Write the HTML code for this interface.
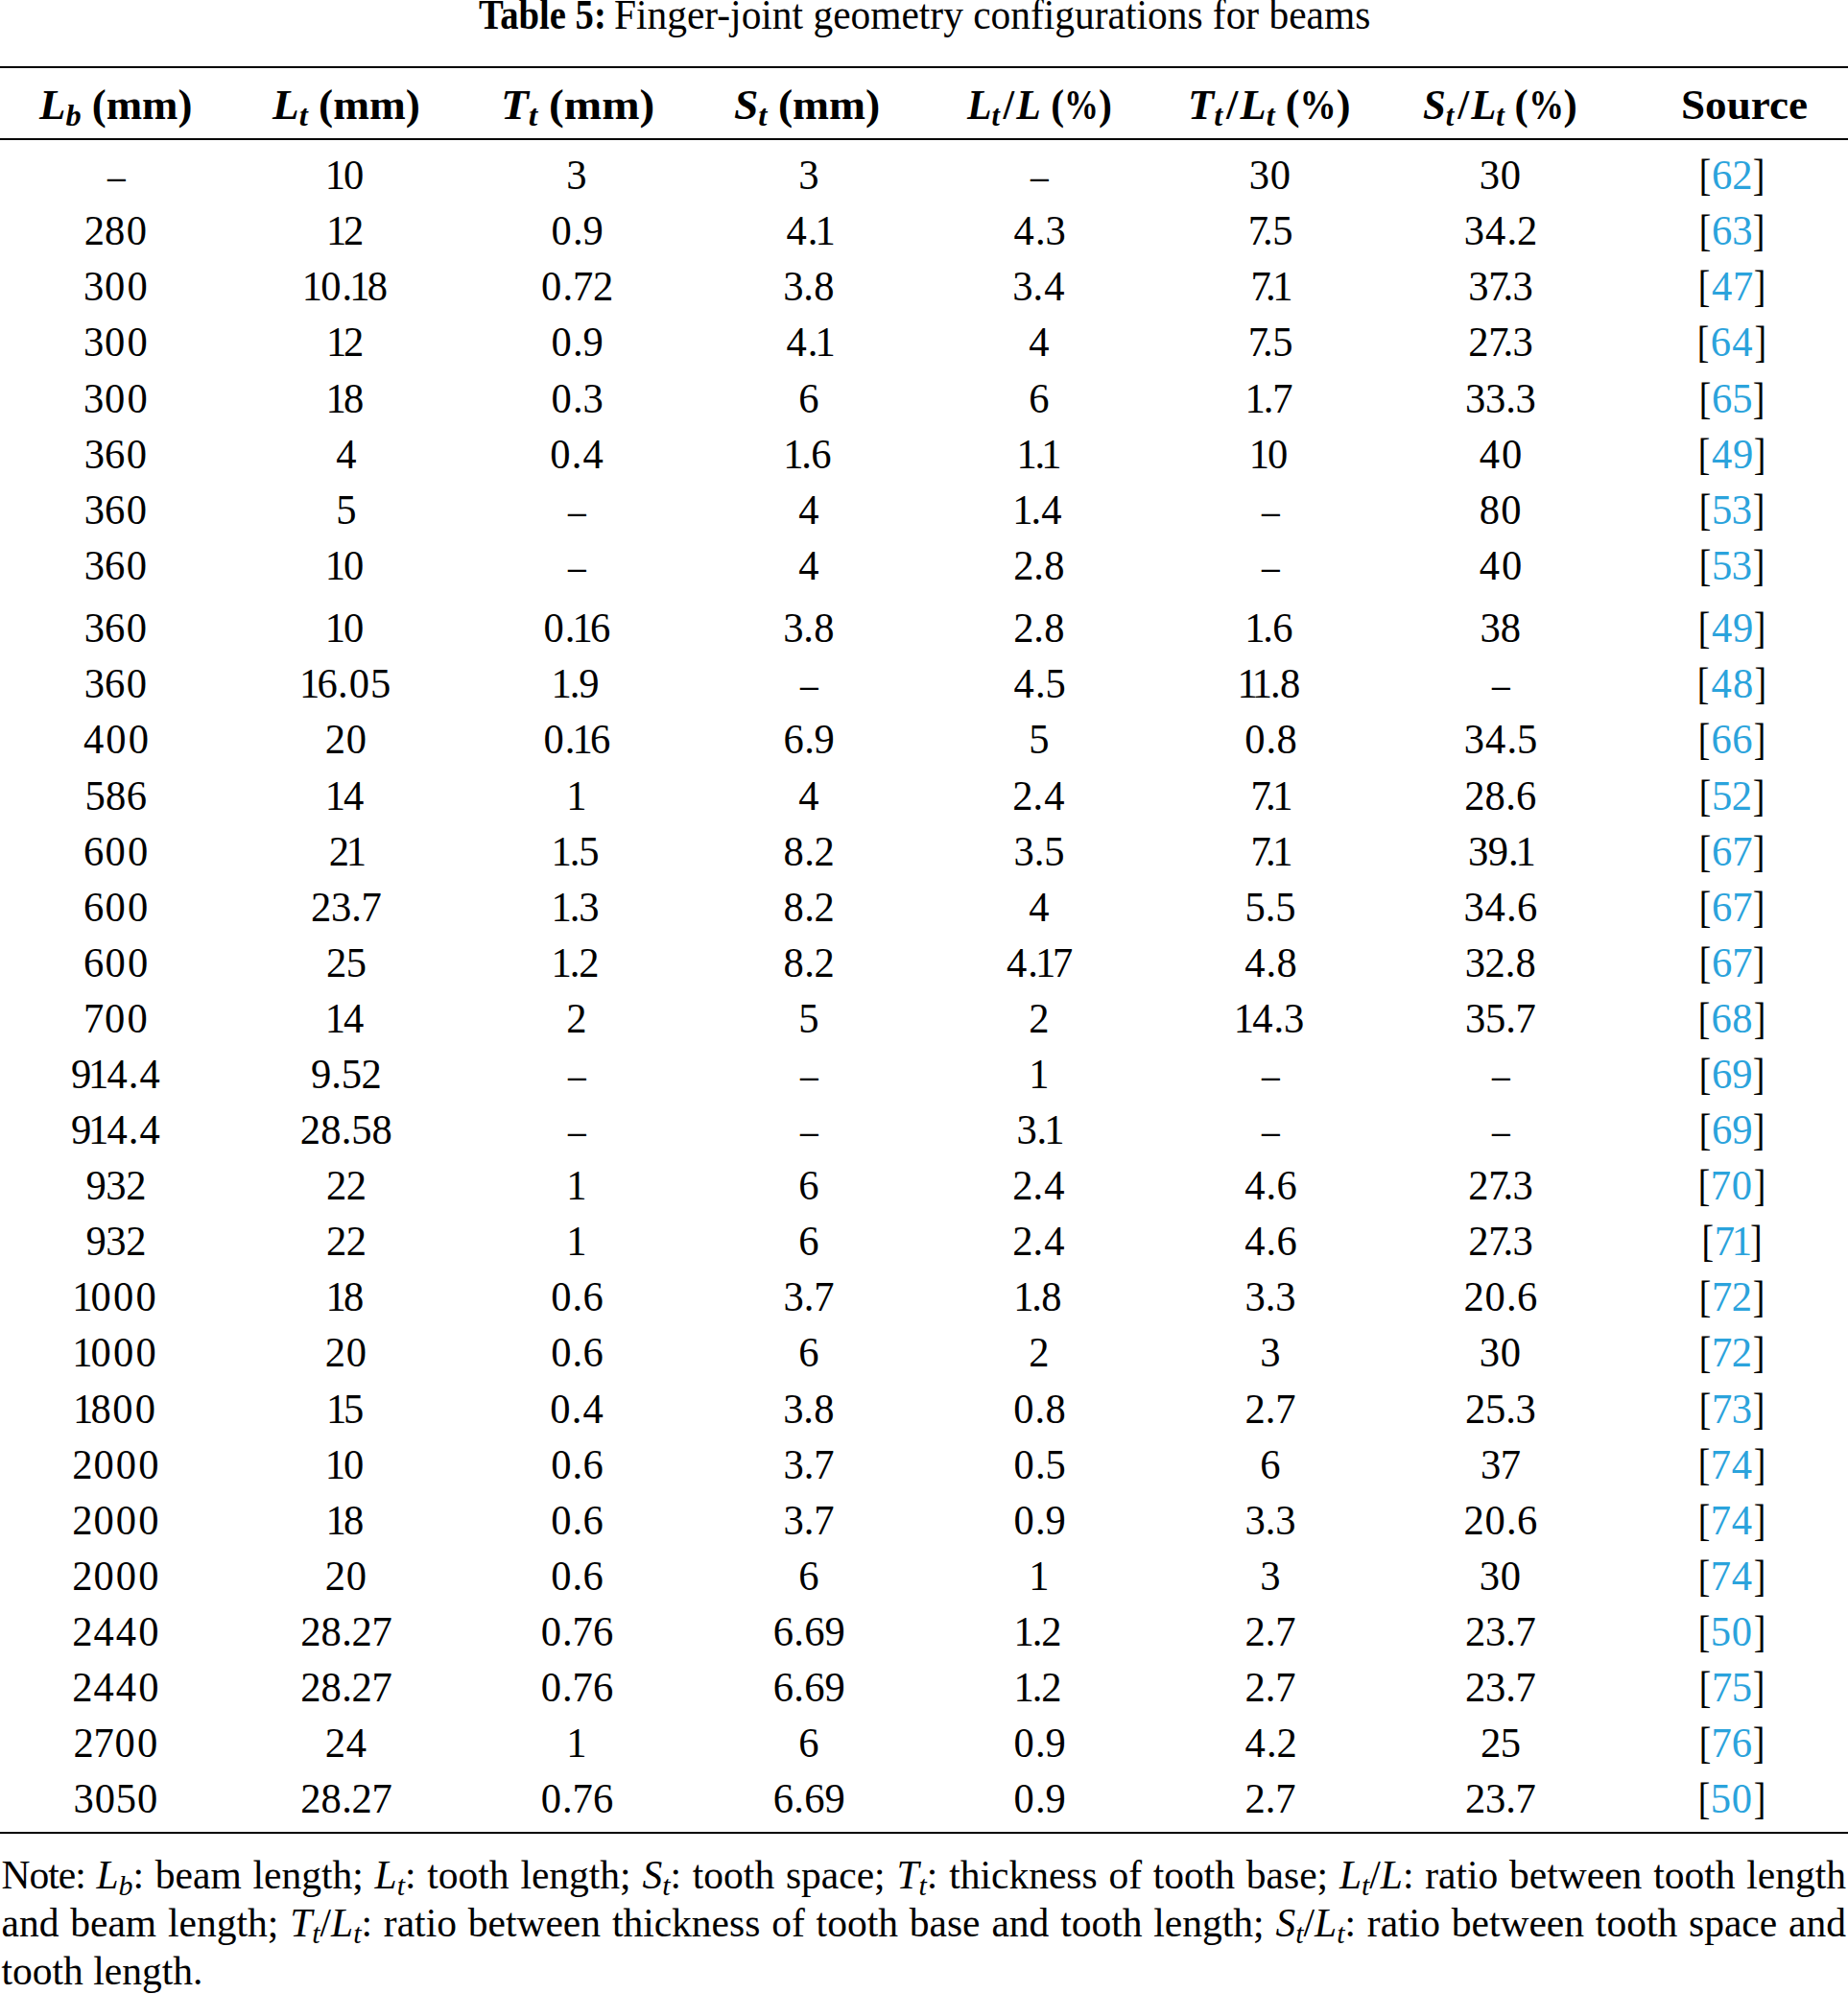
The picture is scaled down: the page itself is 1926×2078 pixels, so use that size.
<!DOCTYPE html>
<html><head><meta charset="utf-8"><title>Table 5</title>
<style>
html,body{margin:0;padding:0;background:#fff;}
body{width:1926px;height:2078px;position:relative;overflow:hidden;font-family:"Liberation Serif",serif;color:#000;}
.ln{position:absolute;left:0;width:1926px;white-space:nowrap;}
.c{position:absolute;top:0;text-align:center;display:block;}
.b .c{transform:scaleX(0.945);}
.rule{position:absolute;left:0;width:1926px;background:#000;}
.ref{color:#2ba3dc;}
.o{margin:0 -0.07em;}
.p{margin:0;}
.d{display:inline-block;transform:scaleX(0.88);position:relative;top:1px;}
.p1{margin:0 -0.02em 0 0.02em;}
.p7{margin:0 -0.01em 0 0;}
.br{display:inline-block;transform:scale(0.89,1.04);}
.bl{transform-origin:100% 50%;margin-right:0.6px;}
.brr{transform-origin:0 50%;margin-left:0.6px;}
.f{position:absolute;top:0;display:block;white-space:nowrap;transform-origin:0 50%;}
.nt{position:absolute;left:1.5px;top:0;width:1922.5px;}
.k{margin:0 -0.14em 0 0;}
.n{margin:0 -0.004em;}
.m{margin:0 0.007em;}
.z{margin:0 0.026em;}
.h{font-weight:bold;}
.h i{font-style:italic;}
sub{font-size:0.72em;vertical-align:baseline;position:relative;top:0.24em;line-height:0;}
.title{text-align:center;}
.note{text-align:justify;text-align-last:justify;white-space:normal;}
.note.last{text-align-last:left;}
</style></head><body>

<div class="rule" style="top:68.8px;height:2.1px"></div>
<div class="rule" style="top:143.8px;height:2.1px"></div>
<div class="rule" style="top:1908.5px;height:2.1px"></div>
<div class="ln " style="top:-11.18px;height:52px;line-height:52px;font-size:43.5px"><span class="f" style="left:499.49px;transform:scaleX(0.8883)"><b>Table 5:</b></span><span class="f" style="left:640.37px;transform:scaleX(0.9523)">Finger-joint geometry configurations for beams</span></div>
<div class="ln h" style="top:82.75px;height:53px;line-height:53px;font-size:44.3px"><span class="f" style="left:41.23px;transform:scaleX(1.0123)"><i>L<sub>b</sub></i> (mm)</span><span class="f" style="left:284.13px;transform:scaleX(1.0231)"><i>L<sub>t</sub></i> (mm)</span><span class="f" style="left:522.00px;transform:scaleX(1.0663)"><i>T<sub>t</sub></i> (mm)</span><span class="f" style="left:765.06px;transform:scaleX(1.0293)"><i>S<sub>t</sub></i> (mm)</span><span class="f" style="left:1007.79px;transform:scaleX(0.9428)"><i>L<sub>t</sub></i><span style="margin:0 0.05em 0 0.09em">/</span><i>L</i> (<span style="display:inline-block;transform:scaleX(0.86);margin:0 -0.07em">%</span>)</span><span class="f" style="left:1238.07px;transform:scaleX(1.0026)"><i>T<sub>t</sub></i><span style="margin:0 0.05em 0 0.09em">/</span><i>L<sub>t</sub></i> (<span style="display:inline-block;transform:scaleX(0.86);margin:0 -0.07em">%</span>)</span><span class="f" style="left:1482.89px;transform:scaleX(0.9652)"><i>S<sub>t</sub></i><span style="margin:0 0.05em 0 0.09em">/</span><i>L<sub>t</sub></i> (<span style="display:inline-block;transform:scaleX(0.86);margin:0 -0.07em">%</span>)</span><span class="f" style="left:1751.88px;transform:scaleX(1.0186)">Source</span></div>
<div class="ln b" style="top:155.11px;height:54px;line-height:54px;font-size:45.0px"><span class="c" style="left:0.60px;width:240px"><span class="d">–</span></span><span class="c" style="left:240.60px;width:240px"><span class="o">1</span><span class="z">0</span></span><span class="c" style="left:481.20px;width:240px"><span class="n">3</span></span><span class="c" style="left:722.60px;width:240px"><span class="n">3</span></span><span class="c" style="left:962.90px;width:240px"><span class="d">–</span></span><span class="c" style="left:1203.60px;width:240px"><span class="n">3</span><span class="z">0</span></span><span class="c" style="left:1443.60px;width:240px"><span class="n">3</span><span class="z">0</span></span><span class="c" style="left:1684.60px;width:240px"><span class="br bl">[</span><span class="ref"><span class="m">6</span><span class="n">2</span></span><span class="br brr">]</span></span></div>
<div class="ln b" style="top:213.23px;height:54px;line-height:54px;font-size:45.0px"><span class="c" style="left:0.60px;width:240px"><span class="n">2</span><span class="m">8</span><span class="z">0</span></span><span class="c" style="left:240.60px;width:240px"><span class="o">1</span><span class="n">2</span></span><span class="c" style="left:481.20px;width:240px"><span class="z">0</span><span class="p">.</span><span class="n">9</span></span><span class="c" style="left:722.60px;width:240px"><span class="z">4</span><span class="p">.</span><span class="o">1</span></span><span class="c" style="left:962.90px;width:240px"><span class="z">4</span><span class="p">.</span><span class="n">3</span></span><span class="c" style="left:1203.60px;width:240px"><span class="k">7</span><span class="p7">.</span><span class="n">5</span></span><span class="c" style="left:1443.60px;width:240px"><span class="n">3</span><span class="z">4</span><span class="p">.</span><span class="n">2</span></span><span class="c" style="left:1684.60px;width:240px"><span class="br bl">[</span><span class="ref"><span class="m">6</span><span class="n">3</span></span><span class="br brr">]</span></span></div>
<div class="ln b" style="top:271.35px;height:54px;line-height:54px;font-size:45.0px"><span class="c" style="left:0.60px;width:240px"><span class="n">3</span><span class="z">0</span><span class="z">0</span></span><span class="c" style="left:240.60px;width:240px"><span class="o">1</span><span class="z">0</span><span class="p">.</span><span class="o">1</span><span class="m">8</span></span><span class="c" style="left:481.20px;width:240px"><span class="z">0</span><span class="p">.</span><span class="n">7</span><span class="n">2</span></span><span class="c" style="left:722.60px;width:240px"><span class="n">3</span><span class="p">.</span><span class="m">8</span></span><span class="c" style="left:962.90px;width:240px"><span class="n">3</span><span class="p">.</span><span class="z">4</span></span><span class="c" style="left:1203.60px;width:240px"><span class="k">7</span><span class="p7">.</span><span class="o">1</span></span><span class="c" style="left:1443.60px;width:240px"><span class="n">3</span><span class="k">7</span><span class="p7">.</span><span class="n">3</span></span><span class="c" style="left:1684.60px;width:240px"><span class="br bl">[</span><span class="ref"><span class="z">4</span><span class="n">7</span></span><span class="br brr">]</span></span></div>
<div class="ln b" style="top:329.47px;height:54px;line-height:54px;font-size:45.0px"><span class="c" style="left:0.60px;width:240px"><span class="n">3</span><span class="z">0</span><span class="z">0</span></span><span class="c" style="left:240.60px;width:240px"><span class="o">1</span><span class="n">2</span></span><span class="c" style="left:481.20px;width:240px"><span class="z">0</span><span class="p">.</span><span class="n">9</span></span><span class="c" style="left:722.60px;width:240px"><span class="z">4</span><span class="p">.</span><span class="o">1</span></span><span class="c" style="left:962.90px;width:240px"><span class="z">4</span></span><span class="c" style="left:1203.60px;width:240px"><span class="k">7</span><span class="p7">.</span><span class="n">5</span></span><span class="c" style="left:1443.60px;width:240px"><span class="n">2</span><span class="k">7</span><span class="p7">.</span><span class="n">3</span></span><span class="c" style="left:1684.60px;width:240px"><span class="br bl">[</span><span class="ref"><span class="m">6</span><span class="z">4</span></span><span class="br brr">]</span></span></div>
<div class="ln b" style="top:387.59px;height:54px;line-height:54px;font-size:45.0px"><span class="c" style="left:0.60px;width:240px"><span class="n">3</span><span class="z">0</span><span class="z">0</span></span><span class="c" style="left:240.60px;width:240px"><span class="o">1</span><span class="m">8</span></span><span class="c" style="left:481.20px;width:240px"><span class="z">0</span><span class="p">.</span><span class="n">3</span></span><span class="c" style="left:722.60px;width:240px"><span class="m">6</span></span><span class="c" style="left:962.90px;width:240px"><span class="m">6</span></span><span class="c" style="left:1203.60px;width:240px"><span class="o">1</span><span class="p1">.</span><span class="n">7</span></span><span class="c" style="left:1443.60px;width:240px"><span class="n">3</span><span class="n">3</span><span class="p">.</span><span class="n">3</span></span><span class="c" style="left:1684.60px;width:240px"><span class="br bl">[</span><span class="ref"><span class="m">6</span><span class="n">5</span></span><span class="br brr">]</span></span></div>
<div class="ln b" style="top:445.71px;height:54px;line-height:54px;font-size:45.0px"><span class="c" style="left:0.60px;width:240px"><span class="n">3</span><span class="m">6</span><span class="z">0</span></span><span class="c" style="left:240.60px;width:240px"><span class="z">4</span></span><span class="c" style="left:481.20px;width:240px"><span class="z">0</span><span class="p">.</span><span class="z">4</span></span><span class="c" style="left:722.60px;width:240px"><span class="o">1</span><span class="p1">.</span><span class="m">6</span></span><span class="c" style="left:962.90px;width:240px"><span class="o">1</span><span class="p1">.</span><span class="o">1</span></span><span class="c" style="left:1203.60px;width:240px"><span class="o">1</span><span class="z">0</span></span><span class="c" style="left:1443.60px;width:240px"><span class="z">4</span><span class="z">0</span></span><span class="c" style="left:1684.60px;width:240px"><span class="br bl">[</span><span class="ref"><span class="z">4</span><span class="n">9</span></span><span class="br brr">]</span></span></div>
<div class="ln b" style="top:503.83px;height:54px;line-height:54px;font-size:45.0px"><span class="c" style="left:0.60px;width:240px"><span class="n">3</span><span class="m">6</span><span class="z">0</span></span><span class="c" style="left:240.60px;width:240px"><span class="n">5</span></span><span class="c" style="left:481.20px;width:240px"><span class="d">–</span></span><span class="c" style="left:722.60px;width:240px"><span class="z">4</span></span><span class="c" style="left:962.90px;width:240px"><span class="o">1</span><span class="p1">.</span><span class="z">4</span></span><span class="c" style="left:1203.60px;width:240px"><span class="d">–</span></span><span class="c" style="left:1443.60px;width:240px"><span class="m">8</span><span class="z">0</span></span><span class="c" style="left:1684.60px;width:240px"><span class="br bl">[</span><span class="ref"><span class="n">5</span><span class="n">3</span></span><span class="br brr">]</span></span></div>
<div class="ln b" style="top:561.95px;height:54px;line-height:54px;font-size:45.0px"><span class="c" style="left:0.60px;width:240px"><span class="n">3</span><span class="m">6</span><span class="z">0</span></span><span class="c" style="left:240.60px;width:240px"><span class="o">1</span><span class="z">0</span></span><span class="c" style="left:481.20px;width:240px"><span class="d">–</span></span><span class="c" style="left:722.60px;width:240px"><span class="z">4</span></span><span class="c" style="left:962.90px;width:240px"><span class="n">2</span><span class="p">.</span><span class="m">8</span></span><span class="c" style="left:1203.60px;width:240px"><span class="d">–</span></span><span class="c" style="left:1443.60px;width:240px"><span class="z">4</span><span class="z">0</span></span><span class="c" style="left:1684.60px;width:240px"><span class="br bl">[</span><span class="ref"><span class="n">5</span><span class="n">3</span></span><span class="br brr">]</span></span></div>
<div class="ln b" style="top:627.31px;height:54px;line-height:54px;font-size:45.0px"><span class="c" style="left:0.60px;width:240px"><span class="n">3</span><span class="m">6</span><span class="z">0</span></span><span class="c" style="left:240.60px;width:240px"><span class="o">1</span><span class="z">0</span></span><span class="c" style="left:481.20px;width:240px"><span class="z">0</span><span class="p">.</span><span class="o">1</span><span class="m">6</span></span><span class="c" style="left:722.60px;width:240px"><span class="n">3</span><span class="p">.</span><span class="m">8</span></span><span class="c" style="left:962.90px;width:240px"><span class="n">2</span><span class="p">.</span><span class="m">8</span></span><span class="c" style="left:1203.60px;width:240px"><span class="o">1</span><span class="p1">.</span><span class="m">6</span></span><span class="c" style="left:1443.60px;width:240px"><span class="n">3</span><span class="m">8</span></span><span class="c" style="left:1684.60px;width:240px"><span class="br bl">[</span><span class="ref"><span class="z">4</span><span class="n">9</span></span><span class="br brr">]</span></span></div>
<div class="ln b" style="top:685.40px;height:54px;line-height:54px;font-size:45.0px"><span class="c" style="left:0.60px;width:240px"><span class="n">3</span><span class="m">6</span><span class="z">0</span></span><span class="c" style="left:240.60px;width:240px"><span class="o">1</span><span class="m">6</span><span class="p">.</span><span class="z">0</span><span class="n">5</span></span><span class="c" style="left:481.20px;width:240px"><span class="o">1</span><span class="p1">.</span><span class="n">9</span></span><span class="c" style="left:722.60px;width:240px"><span class="d">–</span></span><span class="c" style="left:962.90px;width:240px"><span class="z">4</span><span class="p">.</span><span class="n">5</span></span><span class="c" style="left:1203.60px;width:240px"><span class="o">1</span><span class="o">1</span><span class="p1">.</span><span class="m">8</span></span><span class="c" style="left:1443.60px;width:240px"><span class="d">–</span></span><span class="c" style="left:1684.60px;width:240px"><span class="br bl">[</span><span class="ref"><span class="z">4</span><span class="m">8</span></span><span class="br brr">]</span></span></div>
<div class="ln b" style="top:743.48px;height:54px;line-height:54px;font-size:45.0px"><span class="c" style="left:0.60px;width:240px"><span class="z">4</span><span class="z">0</span><span class="z">0</span></span><span class="c" style="left:240.60px;width:240px"><span class="n">2</span><span class="z">0</span></span><span class="c" style="left:481.20px;width:240px"><span class="z">0</span><span class="p">.</span><span class="o">1</span><span class="m">6</span></span><span class="c" style="left:722.60px;width:240px"><span class="m">6</span><span class="p">.</span><span class="n">9</span></span><span class="c" style="left:962.90px;width:240px"><span class="n">5</span></span><span class="c" style="left:1203.60px;width:240px"><span class="z">0</span><span class="p">.</span><span class="m">8</span></span><span class="c" style="left:1443.60px;width:240px"><span class="n">3</span><span class="z">4</span><span class="p">.</span><span class="n">5</span></span><span class="c" style="left:1684.60px;width:240px"><span class="br bl">[</span><span class="ref"><span class="m">6</span><span class="m">6</span></span><span class="br brr">]</span></span></div>
<div class="ln b" style="top:801.57px;height:54px;line-height:54px;font-size:45.0px"><span class="c" style="left:0.60px;width:240px"><span class="n">5</span><span class="m">8</span><span class="m">6</span></span><span class="c" style="left:240.60px;width:240px"><span class="o">1</span><span class="z">4</span></span><span class="c" style="left:481.20px;width:240px"><span class="o">1</span></span><span class="c" style="left:722.60px;width:240px"><span class="z">4</span></span><span class="c" style="left:962.90px;width:240px"><span class="n">2</span><span class="p">.</span><span class="z">4</span></span><span class="c" style="left:1203.60px;width:240px"><span class="k">7</span><span class="p7">.</span><span class="o">1</span></span><span class="c" style="left:1443.60px;width:240px"><span class="n">2</span><span class="m">8</span><span class="p">.</span><span class="m">6</span></span><span class="c" style="left:1684.60px;width:240px"><span class="br bl">[</span><span class="ref"><span class="n">5</span><span class="n">2</span></span><span class="br brr">]</span></span></div>
<div class="ln b" style="top:859.65px;height:54px;line-height:54px;font-size:45.0px"><span class="c" style="left:0.60px;width:240px"><span class="m">6</span><span class="z">0</span><span class="z">0</span></span><span class="c" style="left:240.60px;width:240px"><span class="n">2</span><span class="o">1</span></span><span class="c" style="left:481.20px;width:240px"><span class="o">1</span><span class="p1">.</span><span class="n">5</span></span><span class="c" style="left:722.60px;width:240px"><span class="m">8</span><span class="p">.</span><span class="n">2</span></span><span class="c" style="left:962.90px;width:240px"><span class="n">3</span><span class="p">.</span><span class="n">5</span></span><span class="c" style="left:1203.60px;width:240px"><span class="k">7</span><span class="p7">.</span><span class="o">1</span></span><span class="c" style="left:1443.60px;width:240px"><span class="n">3</span><span class="n">9</span><span class="p">.</span><span class="o">1</span></span><span class="c" style="left:1684.60px;width:240px"><span class="br bl">[</span><span class="ref"><span class="m">6</span><span class="n">7</span></span><span class="br brr">]</span></span></div>
<div class="ln b" style="top:917.74px;height:54px;line-height:54px;font-size:45.0px"><span class="c" style="left:0.60px;width:240px"><span class="m">6</span><span class="z">0</span><span class="z">0</span></span><span class="c" style="left:240.60px;width:240px"><span class="n">2</span><span class="n">3</span><span class="p">.</span><span class="n">7</span></span><span class="c" style="left:481.20px;width:240px"><span class="o">1</span><span class="p1">.</span><span class="n">3</span></span><span class="c" style="left:722.60px;width:240px"><span class="m">8</span><span class="p">.</span><span class="n">2</span></span><span class="c" style="left:962.90px;width:240px"><span class="z">4</span></span><span class="c" style="left:1203.60px;width:240px"><span class="n">5</span><span class="p">.</span><span class="n">5</span></span><span class="c" style="left:1443.60px;width:240px"><span class="n">3</span><span class="z">4</span><span class="p">.</span><span class="m">6</span></span><span class="c" style="left:1684.60px;width:240px"><span class="br bl">[</span><span class="ref"><span class="m">6</span><span class="n">7</span></span><span class="br brr">]</span></span></div>
<div class="ln b" style="top:975.82px;height:54px;line-height:54px;font-size:45.0px"><span class="c" style="left:0.60px;width:240px"><span class="m">6</span><span class="z">0</span><span class="z">0</span></span><span class="c" style="left:240.60px;width:240px"><span class="n">2</span><span class="n">5</span></span><span class="c" style="left:481.20px;width:240px"><span class="o">1</span><span class="p1">.</span><span class="n">2</span></span><span class="c" style="left:722.60px;width:240px"><span class="m">8</span><span class="p">.</span><span class="n">2</span></span><span class="c" style="left:962.90px;width:240px"><span class="z">4</span><span class="p">.</span><span class="o">1</span><span class="n">7</span></span><span class="c" style="left:1203.60px;width:240px"><span class="z">4</span><span class="p">.</span><span class="m">8</span></span><span class="c" style="left:1443.60px;width:240px"><span class="n">3</span><span class="n">2</span><span class="p">.</span><span class="m">8</span></span><span class="c" style="left:1684.60px;width:240px"><span class="br bl">[</span><span class="ref"><span class="m">6</span><span class="n">7</span></span><span class="br brr">]</span></span></div>
<div class="ln b" style="top:1033.91px;height:54px;line-height:54px;font-size:45.0px"><span class="c" style="left:0.60px;width:240px"><span class="n">7</span><span class="z">0</span><span class="z">0</span></span><span class="c" style="left:240.60px;width:240px"><span class="o">1</span><span class="z">4</span></span><span class="c" style="left:481.20px;width:240px"><span class="n">2</span></span><span class="c" style="left:722.60px;width:240px"><span class="n">5</span></span><span class="c" style="left:962.90px;width:240px"><span class="n">2</span></span><span class="c" style="left:1203.60px;width:240px"><span class="o">1</span><span class="z">4</span><span class="p">.</span><span class="n">3</span></span><span class="c" style="left:1443.60px;width:240px"><span class="n">3</span><span class="n">5</span><span class="p">.</span><span class="n">7</span></span><span class="c" style="left:1684.60px;width:240px"><span class="br bl">[</span><span class="ref"><span class="m">6</span><span class="m">8</span></span><span class="br brr">]</span></span></div>
<div class="ln b" style="top:1091.99px;height:54px;line-height:54px;font-size:45.0px"><span class="c" style="left:0.60px;width:240px"><span class="n">9</span><span class="o">1</span><span class="z">4</span><span class="p">.</span><span class="z">4</span></span><span class="c" style="left:240.60px;width:240px"><span class="n">9</span><span class="p">.</span><span class="n">5</span><span class="n">2</span></span><span class="c" style="left:481.20px;width:240px"><span class="d">–</span></span><span class="c" style="left:722.60px;width:240px"><span class="d">–</span></span><span class="c" style="left:962.90px;width:240px"><span class="o">1</span></span><span class="c" style="left:1203.60px;width:240px"><span class="d">–</span></span><span class="c" style="left:1443.60px;width:240px"><span class="d">–</span></span><span class="c" style="left:1684.60px;width:240px"><span class="br bl">[</span><span class="ref"><span class="m">6</span><span class="n">9</span></span><span class="br brr">]</span></span></div>
<div class="ln b" style="top:1150.08px;height:54px;line-height:54px;font-size:45.0px"><span class="c" style="left:0.60px;width:240px"><span class="n">9</span><span class="o">1</span><span class="z">4</span><span class="p">.</span><span class="z">4</span></span><span class="c" style="left:240.60px;width:240px"><span class="n">2</span><span class="m">8</span><span class="p">.</span><span class="n">5</span><span class="m">8</span></span><span class="c" style="left:481.20px;width:240px"><span class="d">–</span></span><span class="c" style="left:722.60px;width:240px"><span class="d">–</span></span><span class="c" style="left:962.90px;width:240px"><span class="n">3</span><span class="p">.</span><span class="o">1</span></span><span class="c" style="left:1203.60px;width:240px"><span class="d">–</span></span><span class="c" style="left:1443.60px;width:240px"><span class="d">–</span></span><span class="c" style="left:1684.60px;width:240px"><span class="br bl">[</span><span class="ref"><span class="m">6</span><span class="n">9</span></span><span class="br brr">]</span></span></div>
<div class="ln b" style="top:1208.16px;height:54px;line-height:54px;font-size:45.0px"><span class="c" style="left:0.60px;width:240px"><span class="n">9</span><span class="n">3</span><span class="n">2</span></span><span class="c" style="left:240.60px;width:240px"><span class="n">2</span><span class="n">2</span></span><span class="c" style="left:481.20px;width:240px"><span class="o">1</span></span><span class="c" style="left:722.60px;width:240px"><span class="m">6</span></span><span class="c" style="left:962.90px;width:240px"><span class="n">2</span><span class="p">.</span><span class="z">4</span></span><span class="c" style="left:1203.60px;width:240px"><span class="z">4</span><span class="p">.</span><span class="m">6</span></span><span class="c" style="left:1443.60px;width:240px"><span class="n">2</span><span class="k">7</span><span class="p7">.</span><span class="n">3</span></span><span class="c" style="left:1684.60px;width:240px"><span class="br bl">[</span><span class="ref"><span class="n">7</span><span class="z">0</span></span><span class="br brr">]</span></span></div>
<div class="ln b" style="top:1266.25px;height:54px;line-height:54px;font-size:45.0px"><span class="c" style="left:0.60px;width:240px"><span class="n">9</span><span class="n">3</span><span class="n">2</span></span><span class="c" style="left:240.60px;width:240px"><span class="n">2</span><span class="n">2</span></span><span class="c" style="left:481.20px;width:240px"><span class="o">1</span></span><span class="c" style="left:722.60px;width:240px"><span class="m">6</span></span><span class="c" style="left:962.90px;width:240px"><span class="n">2</span><span class="p">.</span><span class="z">4</span></span><span class="c" style="left:1203.60px;width:240px"><span class="z">4</span><span class="p">.</span><span class="m">6</span></span><span class="c" style="left:1443.60px;width:240px"><span class="n">2</span><span class="k">7</span><span class="p7">.</span><span class="n">3</span></span><span class="c" style="left:1684.60px;width:240px"><span class="br bl">[</span><span class="ref"><span class="n">7</span><span class="o">1</span></span><span class="br brr">]</span></span></div>
<div class="ln b" style="top:1324.33px;height:54px;line-height:54px;font-size:45.0px"><span class="c" style="left:0.60px;width:240px"><span class="o">1</span><span class="z">0</span><span class="z">0</span><span class="z">0</span></span><span class="c" style="left:240.60px;width:240px"><span class="o">1</span><span class="m">8</span></span><span class="c" style="left:481.20px;width:240px"><span class="z">0</span><span class="p">.</span><span class="m">6</span></span><span class="c" style="left:722.60px;width:240px"><span class="n">3</span><span class="p">.</span><span class="n">7</span></span><span class="c" style="left:962.90px;width:240px"><span class="o">1</span><span class="p1">.</span><span class="m">8</span></span><span class="c" style="left:1203.60px;width:240px"><span class="n">3</span><span class="p">.</span><span class="n">3</span></span><span class="c" style="left:1443.60px;width:240px"><span class="n">2</span><span class="z">0</span><span class="p">.</span><span class="m">6</span></span><span class="c" style="left:1684.60px;width:240px"><span class="br bl">[</span><span class="ref"><span class="n">7</span><span class="n">2</span></span><span class="br brr">]</span></span></div>
<div class="ln b" style="top:1382.42px;height:54px;line-height:54px;font-size:45.0px"><span class="c" style="left:0.60px;width:240px"><span class="o">1</span><span class="z">0</span><span class="z">0</span><span class="z">0</span></span><span class="c" style="left:240.60px;width:240px"><span class="n">2</span><span class="z">0</span></span><span class="c" style="left:481.20px;width:240px"><span class="z">0</span><span class="p">.</span><span class="m">6</span></span><span class="c" style="left:722.60px;width:240px"><span class="m">6</span></span><span class="c" style="left:962.90px;width:240px"><span class="n">2</span></span><span class="c" style="left:1203.60px;width:240px"><span class="n">3</span></span><span class="c" style="left:1443.60px;width:240px"><span class="n">3</span><span class="z">0</span></span><span class="c" style="left:1684.60px;width:240px"><span class="br bl">[</span><span class="ref"><span class="n">7</span><span class="n">2</span></span><span class="br brr">]</span></span></div>
<div class="ln b" style="top:1440.50px;height:54px;line-height:54px;font-size:45.0px"><span class="c" style="left:0.60px;width:240px"><span class="o">1</span><span class="m">8</span><span class="z">0</span><span class="z">0</span></span><span class="c" style="left:240.60px;width:240px"><span class="o">1</span><span class="n">5</span></span><span class="c" style="left:481.20px;width:240px"><span class="z">0</span><span class="p">.</span><span class="z">4</span></span><span class="c" style="left:722.60px;width:240px"><span class="n">3</span><span class="p">.</span><span class="m">8</span></span><span class="c" style="left:962.90px;width:240px"><span class="z">0</span><span class="p">.</span><span class="m">8</span></span><span class="c" style="left:1203.60px;width:240px"><span class="n">2</span><span class="p">.</span><span class="n">7</span></span><span class="c" style="left:1443.60px;width:240px"><span class="n">2</span><span class="n">5</span><span class="p">.</span><span class="n">3</span></span><span class="c" style="left:1684.60px;width:240px"><span class="br bl">[</span><span class="ref"><span class="n">7</span><span class="n">3</span></span><span class="br brr">]</span></span></div>
<div class="ln b" style="top:1498.59px;height:54px;line-height:54px;font-size:45.0px"><span class="c" style="left:0.60px;width:240px"><span class="n">2</span><span class="z">0</span><span class="z">0</span><span class="z">0</span></span><span class="c" style="left:240.60px;width:240px"><span class="o">1</span><span class="z">0</span></span><span class="c" style="left:481.20px;width:240px"><span class="z">0</span><span class="p">.</span><span class="m">6</span></span><span class="c" style="left:722.60px;width:240px"><span class="n">3</span><span class="p">.</span><span class="n">7</span></span><span class="c" style="left:962.90px;width:240px"><span class="z">0</span><span class="p">.</span><span class="n">5</span></span><span class="c" style="left:1203.60px;width:240px"><span class="m">6</span></span><span class="c" style="left:1443.60px;width:240px"><span class="n">3</span><span class="n">7</span></span><span class="c" style="left:1684.60px;width:240px"><span class="br bl">[</span><span class="ref"><span class="n">7</span><span class="z">4</span></span><span class="br brr">]</span></span></div>
<div class="ln b" style="top:1556.67px;height:54px;line-height:54px;font-size:45.0px"><span class="c" style="left:0.60px;width:240px"><span class="n">2</span><span class="z">0</span><span class="z">0</span><span class="z">0</span></span><span class="c" style="left:240.60px;width:240px"><span class="o">1</span><span class="m">8</span></span><span class="c" style="left:481.20px;width:240px"><span class="z">0</span><span class="p">.</span><span class="m">6</span></span><span class="c" style="left:722.60px;width:240px"><span class="n">3</span><span class="p">.</span><span class="n">7</span></span><span class="c" style="left:962.90px;width:240px"><span class="z">0</span><span class="p">.</span><span class="n">9</span></span><span class="c" style="left:1203.60px;width:240px"><span class="n">3</span><span class="p">.</span><span class="n">3</span></span><span class="c" style="left:1443.60px;width:240px"><span class="n">2</span><span class="z">0</span><span class="p">.</span><span class="m">6</span></span><span class="c" style="left:1684.60px;width:240px"><span class="br bl">[</span><span class="ref"><span class="n">7</span><span class="z">4</span></span><span class="br brr">]</span></span></div>
<div class="ln b" style="top:1614.76px;height:54px;line-height:54px;font-size:45.0px"><span class="c" style="left:0.60px;width:240px"><span class="n">2</span><span class="z">0</span><span class="z">0</span><span class="z">0</span></span><span class="c" style="left:240.60px;width:240px"><span class="n">2</span><span class="z">0</span></span><span class="c" style="left:481.20px;width:240px"><span class="z">0</span><span class="p">.</span><span class="m">6</span></span><span class="c" style="left:722.60px;width:240px"><span class="m">6</span></span><span class="c" style="left:962.90px;width:240px"><span class="o">1</span></span><span class="c" style="left:1203.60px;width:240px"><span class="n">3</span></span><span class="c" style="left:1443.60px;width:240px"><span class="n">3</span><span class="z">0</span></span><span class="c" style="left:1684.60px;width:240px"><span class="br bl">[</span><span class="ref"><span class="n">7</span><span class="z">4</span></span><span class="br brr">]</span></span></div>
<div class="ln b" style="top:1672.84px;height:54px;line-height:54px;font-size:45.0px"><span class="c" style="left:0.60px;width:240px"><span class="n">2</span><span class="z">4</span><span class="z">4</span><span class="z">0</span></span><span class="c" style="left:240.60px;width:240px"><span class="n">2</span><span class="m">8</span><span class="p">.</span><span class="n">2</span><span class="n">7</span></span><span class="c" style="left:481.20px;width:240px"><span class="z">0</span><span class="p">.</span><span class="n">7</span><span class="m">6</span></span><span class="c" style="left:722.60px;width:240px"><span class="m">6</span><span class="p">.</span><span class="m">6</span><span class="n">9</span></span><span class="c" style="left:962.90px;width:240px"><span class="o">1</span><span class="p1">.</span><span class="n">2</span></span><span class="c" style="left:1203.60px;width:240px"><span class="n">2</span><span class="p">.</span><span class="n">7</span></span><span class="c" style="left:1443.60px;width:240px"><span class="n">2</span><span class="n">3</span><span class="p">.</span><span class="n">7</span></span><span class="c" style="left:1684.60px;width:240px"><span class="br bl">[</span><span class="ref"><span class="n">5</span><span class="z">0</span></span><span class="br brr">]</span></span></div>
<div class="ln b" style="top:1730.93px;height:54px;line-height:54px;font-size:45.0px"><span class="c" style="left:0.60px;width:240px"><span class="n">2</span><span class="z">4</span><span class="z">4</span><span class="z">0</span></span><span class="c" style="left:240.60px;width:240px"><span class="n">2</span><span class="m">8</span><span class="p">.</span><span class="n">2</span><span class="n">7</span></span><span class="c" style="left:481.20px;width:240px"><span class="z">0</span><span class="p">.</span><span class="n">7</span><span class="m">6</span></span><span class="c" style="left:722.60px;width:240px"><span class="m">6</span><span class="p">.</span><span class="m">6</span><span class="n">9</span></span><span class="c" style="left:962.90px;width:240px"><span class="o">1</span><span class="p1">.</span><span class="n">2</span></span><span class="c" style="left:1203.60px;width:240px"><span class="n">2</span><span class="p">.</span><span class="n">7</span></span><span class="c" style="left:1443.60px;width:240px"><span class="n">2</span><span class="n">3</span><span class="p">.</span><span class="n">7</span></span><span class="c" style="left:1684.60px;width:240px"><span class="br bl">[</span><span class="ref"><span class="n">7</span><span class="n">5</span></span><span class="br brr">]</span></span></div>
<div class="ln b" style="top:1789.01px;height:54px;line-height:54px;font-size:45.0px"><span class="c" style="left:0.60px;width:240px"><span class="n">2</span><span class="n">7</span><span class="z">0</span><span class="z">0</span></span><span class="c" style="left:240.60px;width:240px"><span class="n">2</span><span class="z">4</span></span><span class="c" style="left:481.20px;width:240px"><span class="o">1</span></span><span class="c" style="left:722.60px;width:240px"><span class="m">6</span></span><span class="c" style="left:962.90px;width:240px"><span class="z">0</span><span class="p">.</span><span class="n">9</span></span><span class="c" style="left:1203.60px;width:240px"><span class="z">4</span><span class="p">.</span><span class="n">2</span></span><span class="c" style="left:1443.60px;width:240px"><span class="n">2</span><span class="n">5</span></span><span class="c" style="left:1684.60px;width:240px"><span class="br bl">[</span><span class="ref"><span class="n">7</span><span class="m">6</span></span><span class="br brr">]</span></span></div>
<div class="ln b" style="top:1847.10px;height:54px;line-height:54px;font-size:45.0px"><span class="c" style="left:0.60px;width:240px"><span class="n">3</span><span class="z">0</span><span class="n">5</span><span class="z">0</span></span><span class="c" style="left:240.60px;width:240px"><span class="n">2</span><span class="m">8</span><span class="p">.</span><span class="n">2</span><span class="n">7</span></span><span class="c" style="left:481.20px;width:240px"><span class="z">0</span><span class="p">.</span><span class="n">7</span><span class="m">6</span></span><span class="c" style="left:722.60px;width:240px"><span class="m">6</span><span class="p">.</span><span class="m">6</span><span class="n">9</span></span><span class="c" style="left:962.90px;width:240px"><span class="z">0</span><span class="p">.</span><span class="n">9</span></span><span class="c" style="left:1203.60px;width:240px"><span class="n">2</span><span class="p">.</span><span class="n">7</span></span><span class="c" style="left:1443.60px;width:240px"><span class="n">2</span><span class="n">3</span><span class="p">.</span><span class="n">7</span></span><span class="c" style="left:1684.60px;width:240px"><span class="br bl">[</span><span class="ref"><span class="n">5</span><span class="z">0</span></span><span class="br brr">]</span></span></div>
<div class="ln note" style="top:1928.99px;height:50px;line-height:50px;font-size:41.5px"><div class="nt"><span style="letter-spacing:-1px">Note:</span> <i>L<sub>b</sub></i>: beam length; <i>L<sub>t</sub></i>: tooth length; <i>S<sub>t</sub></i>: tooth space; <i>T<sub>t</sub></i>: thickness of tooth base; <i>L<sub>t</sub></i>/<i>L</i>: ratio between tooth length</div></div>
<div class="ln note" style="top:1978.99px;height:50px;line-height:50px;font-size:41.5px"><div class="nt">and beam length; <i>T<sub>t</sub></i>/<i>L<sub>t</sub></i>: ratio between thickness of tooth base and tooth length; <i>S<sub>t</sub></i>/<i>L<sub>t</sub></i>: ratio between tooth space and</div></div>
<div class="ln note last" style="top:2028.69px;height:50px;line-height:50px;font-size:41.5px"><div class="nt">tooth length.</div></div>
</body></html>
